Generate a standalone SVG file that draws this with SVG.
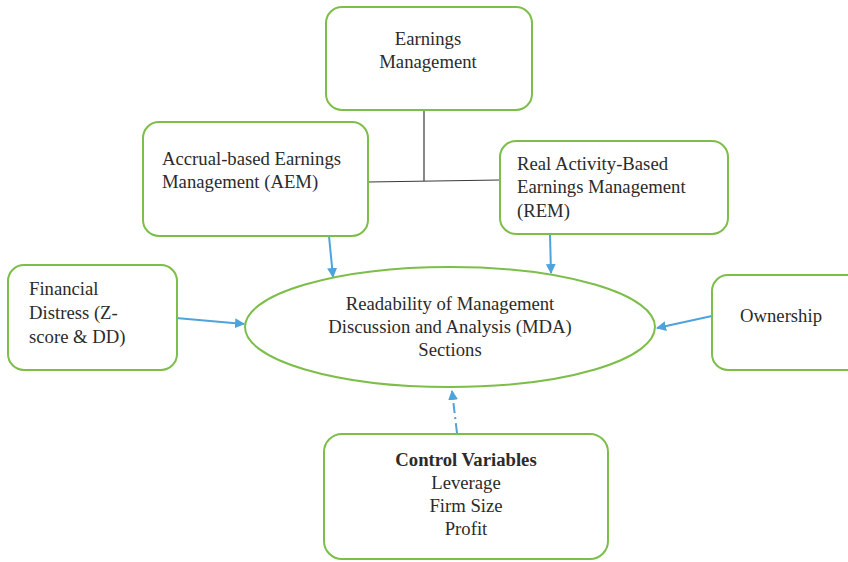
<svg xmlns="http://www.w3.org/2000/svg" width="848" height="562" viewBox="0 0 848 562">
  <style>
    .box { fill: #ffffff; stroke: #7DBE4A; stroke-width: 2; }
    .txt { font-family: 'Times New Roman', 'Liberation Serif', 'DejaVu Serif', serif; font-size: 18.7px; fill: #2b2b2b; }
    .mid { text-anchor: middle; }
    .bold { font-weight: bold; }
    .tree { stroke: #3a3a3a; stroke-width: 1.2; fill: none; }
    .arrow { stroke: #4FA3DC; stroke-width: 2; fill: none; marker-end: url(#head); }
    .dashdot { stroke-dasharray: 10 4 2 4; }
  </style>
  <defs>
    <marker id="head" viewBox="0 0 10 10" refX="9" refY="5" markerWidth="5" markerHeight="5" orient="auto" markerUnits="strokeWidth">
      <path d="M0,0 L10,5 L0,10 z" fill="#4FA3DC"/>
    </marker>
  </defs>

  <rect width="848" height="562" fill="#ffffff"/>

  <!-- connectors -->
  <g id="connectors">
    <line class="tree" x1="424" y1="110" x2="424" y2="181"/>
    <line class="tree" x1="368" y1="182" x2="500" y2="180"/>
    <line class="arrow" x1="329" y1="236" x2="333" y2="277"/>
    <line class="arrow" x1="550" y1="234" x2="551" y2="273"/>
    <line class="arrow" x1="176" y1="318" x2="244" y2="324"/>
    <line class="arrow" x1="712" y1="316" x2="657" y2="328"/>
    <line class="arrow dashdot" x1="457" y1="433" x2="452" y2="391"/>
  </g>

  <g id="earnings-management">
    <rect class="box" x="326" y="7" width="206" height="103" rx="16"/>
    <text class="txt mid" x="428" y="45">Earnings</text>
    <text class="txt mid" x="428" y="68">Management</text>
  </g>

  <g id="aem">
    <rect class="box" x="143" y="122" width="225" height="114" rx="16"/>
    <text class="txt" x="162" y="165">Accrual-based Earnings</text>
    <text class="txt" x="162" y="188">Management (AEM)</text>
  </g>

  <g id="rem">
    <rect class="box" x="500" y="141" width="228" height="93" rx="16"/>
    <text class="txt" x="517" y="170">Real Activity-Based</text>
    <text class="txt" x="517" y="193">Earnings Management</text>
    <text class="txt" x="517" y="217">(REM)</text>
  </g>

  <g id="financial-distress">
    <rect class="box" x="8" y="265" width="169" height="105" rx="16"/>
    <text class="txt" x="29" y="295">Financial</text>
    <text class="txt" x="29" y="319">Distress (Z-</text>
    <text class="txt" x="29" y="343">score &amp; DD)</text>
  </g>

  <g id="ownership">
    <rect class="box" x="712" y="275" width="150" height="95" rx="16"/>
    <text class="txt" x="740" y="322">Ownership</text>
  </g>

  <g id="mda-readability">
    <ellipse class="box" cx="450" cy="327" rx="205" ry="60"/>
    <text class="txt mid" x="450" y="310">Readability of Management</text>
    <text class="txt mid" x="450" y="333">Discussion and Analysis (MDA)</text>
    <text class="txt mid" x="450" y="356">Sections</text>
  </g>

  <g id="control-variables">
    <rect class="box" x="324" y="434" width="284" height="125" rx="18"/>
    <text class="txt mid bold" x="466" y="466">Control Variables</text>
    <text class="txt mid" x="466" y="489">Leverage</text>
    <text class="txt mid" x="466" y="512">Firm Size</text>
    <text class="txt mid" x="466" y="535">Profit</text>
  </g>
</svg>
